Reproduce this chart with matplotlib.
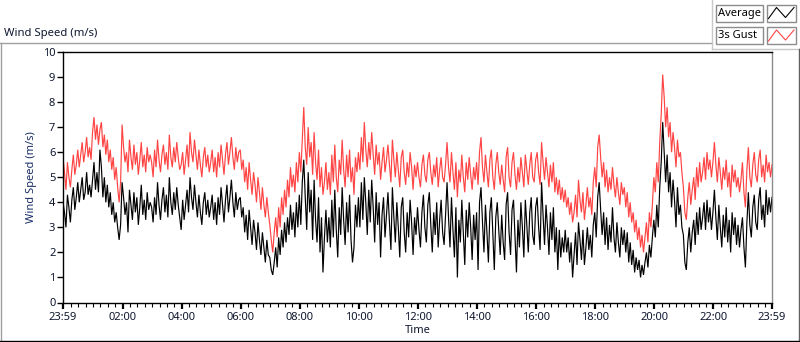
import matplotlib
matplotlib.use("Agg")
import matplotlib.pyplot as plt
from matplotlib.lines import Line2D
from matplotlib.patches import Rectangle
import numpy as np

plt.rcParams['font.family'] = ['Noto Sans', 'DejaVu Sans']

# ---- data (3-minute samples, minutes since 23:59 of the previous day) ----
gust = [
    5.8, 5.2, 4.5, 5.6, 5.0, 4.6, 5.3, 5.9, 5.1, 5.5, 6.1, 5.4, 5.9, 6.4, 5.6, 6.0, 6.6, 5.8, 6.2, 5.7,
    6.8, 7.4, 6.5, 7.1, 6.3, 6.9, 7.2, 6.2, 6.7, 5.9, 6.5, 5.6, 6.1, 5.3, 5.8, 4.9, 5.4, 4.6, 4.0, 4.8,
    7.1, 6.2, 5.6, 6.0, 5.2, 6.5, 5.8, 5.3, 6.3, 5.5, 6.0, 5.1, 5.7, 6.4, 5.4, 5.9, 5.2, 6.2, 5.6, 5.9,
    5.6, 5.0, 6.1, 5.4, 6.5, 5.7, 5.2, 5.9, 6.3, 5.5, 6.0, 5.3, 6.7, 5.8, 5.4, 6.2, 5.6, 6.4, 5.8, 5.3,
    5.5, 6.0, 5.1, 5.7, 6.3, 5.4, 6.8, 6.0, 5.6, 6.5, 5.9, 5.3, 6.1, 5.5, 5.0, 5.8, 6.2, 5.4, 5.9, 5.2,
    5.6, 6.1, 5.2, 5.8, 5.0, 6.0, 5.4, 6.3, 5.7, 5.1, 5.9, 6.4, 5.5, 6.0, 6.6, 5.8, 5.3, 6.2, 5.6, 6.0,
    6.1, 5.3, 5.7, 4.8, 5.4, 4.5, 5.6, 4.9, 4.3, 5.2, 4.7, 4.0, 5.0, 4.4, 3.7, 4.6, 3.9, 3.4, 4.2, 3.6,
    3.1, 2.5, 2.0, 2.8, 3.4, 2.6, 3.8, 3.0, 4.2, 3.5, 4.5, 3.8, 4.9, 4.2, 5.4, 4.6, 5.1, 4.4, 5.6, 4.8,
    6.0, 5.2, 6.5, 7.8, 6.2, 5.5, 7.0, 5.8, 6.4, 5.1, 6.8, 5.6, 4.9, 6.1, 4.6, 5.4, 4.3, 4.8, 5.6, 4.5,
    5.2, 4.3, 5.9, 4.8, 6.3, 5.0, 4.4, 5.7, 5.1, 6.5, 5.3, 4.6, 5.9, 5.0, 6.1, 4.8, 5.4, 4.3, 5.8, 5.2,
    6.0, 5.3, 6.6, 5.6, 7.2, 6.1, 5.4, 6.4, 5.7, 6.8, 5.9, 5.1, 6.3, 5.5, 6.0, 4.9, 5.6, 6.2, 5.2, 5.7,
    6.3, 5.5, 4.8, 6.5, 5.7, 5.0, 6.0, 5.3, 4.6, 5.8, 6.1, 5.2, 4.7, 5.6, 5.0, 6.0, 5.4, 4.5, 5.5, 5.0,
    5.6, 5.0, 4.6, 5.5, 5.9, 5.1, 4.8, 5.7, 6.0, 5.2, 4.7, 5.5, 5.0, 5.8, 4.6, 5.3, 5.8, 5.0, 4.8, 5.5,
    6.4, 5.4, 4.8, 6.0, 5.2, 4.5, 5.6, 4.2, 5.3, 4.8, 5.9, 5.0, 4.4, 5.6, 4.9, 5.8, 5.1, 4.5, 5.4, 4.9,
    5.6, 4.7, 6.0, 6.6, 5.4, 4.8, 5.9, 5.2, 4.6, 5.7, 6.1, 5.0, 4.5, 5.5, 6.0, 5.2, 4.7, 5.5, 4.9, 4.4,
    5.8, 6.2, 5.0, 4.6, 5.6, 6.0, 5.1, 4.5, 5.4, 4.8, 5.8, 5.2, 4.6, 5.9, 5.3, 4.7, 5.5, 6.0, 5.0, 4.8,
    5.7, 6.0, 5.2, 4.7, 6.4, 5.6, 4.9, 5.8, 5.2, 4.6, 5.5, 4.8, 5.6, 4.4, 5.0, 4.3, 4.9, 4.1, 4.6, 4.0,
    4.5, 3.8, 4.2, 3.5, 4.0, 3.2, 3.6, 4.3, 3.4, 4.9, 4.1, 3.6, 4.4, 3.3, 3.9, 4.6, 3.8, 4.2, 3.5, 4.8,
    5.4, 4.6, 6.2, 6.7, 5.8, 5.0, 5.6, 4.6, 5.3, 4.4, 5.0, 4.5, 5.4, 4.7, 4.2, 5.0, 4.4, 3.9, 4.8, 4.3,
    4.6, 3.8, 4.4, 3.4, 4.0, 3.2, 3.6, 2.8, 3.3, 2.5, 3.0, 2.2, 2.7, 2.0, 2.6, 3.2, 2.4, 3.6, 3.0, 3.9,
    5.0, 4.4, 5.6, 4.8, 6.4, 7.5, 9.1, 8.2, 7.0, 7.8, 6.6, 7.2, 6.0, 6.8, 6.2, 5.4, 6.5, 5.8, 6.0, 5.2,
    4.6, 3.6, 3.3, 4.2, 4.8, 3.9, 4.5, 5.0, 4.1, 5.4, 4.6, 5.6, 4.8, 5.2, 5.8, 4.9, 6.0, 5.3, 5.7, 5.0,
    5.6, 6.4, 5.5, 4.8, 5.8, 5.2, 4.5, 5.4, 4.9, 5.7, 4.6, 5.2, 4.2, 5.5, 4.8, 5.3, 4.6, 5.0, 4.4, 4.9,
    5.6, 4.4, 3.8, 5.3, 6.2, 5.0, 4.6, 5.5, 6.0, 5.1, 4.8, 5.7, 6.1, 5.0, 5.5, 4.8, 5.9, 5.2, 5.6, 5.0,
    5.5,
]
average = [
    4.0, 3.6, 3.0, 4.3, 3.8, 3.2, 4.1, 4.6, 3.7, 4.2, 4.8, 4.0, 4.5, 5.0, 4.1, 4.4, 5.2, 4.3, 4.7, 4.2,
    4.9, 5.6, 4.5, 5.2, 4.4, 6.1, 5.4, 4.2, 5.0, 4.0, 4.7, 3.8, 4.4, 3.5, 4.0, 3.2, 3.6, 3.0, 2.5, 3.1,
    4.8, 4.2, 3.5, 4.0, 2.8, 4.5, 3.9, 3.3, 4.4, 3.6, 4.2, 3.1, 3.8, 4.7, 3.5, 4.1, 3.3, 4.4, 3.7, 4.0,
    3.8, 3.2, 4.2, 3.5, 4.8, 3.9, 3.3, 4.1, 4.6, 3.6, 4.3, 3.4, 5.0, 4.0, 3.5, 4.4, 3.7, 4.6, 3.9, 3.4,
    2.9, 4.1, 3.3, 3.9, 4.5, 3.6, 5.0, 4.2, 3.7, 4.7, 4.0, 3.4, 4.3, 3.6, 3.1, 4.0, 4.4, 3.5, 4.1, 3.4,
    3.8, 4.3, 3.3, 4.0, 3.1, 4.2, 3.5, 4.6, 3.9, 3.2, 4.1, 4.7, 3.6, 4.2, 4.9, 4.0, 3.4, 4.4, 3.7, 4.1,
    4.2, 3.4, 3.8, 2.8, 3.5, 2.5, 3.7, 3.0, 2.3, 3.3, 2.8, 2.1, 3.2, 2.5, 1.9, 2.8, 2.2, 1.6, 2.5, 1.9,
    1.8, 1.3, 1.1, 1.6, 2.2, 1.4, 2.6, 1.9, 2.9, 2.2, 3.2, 2.4, 3.4, 2.7, 3.9, 2.9, 3.6, 2.6, 4.0, 3.0,
    4.3, 3.1, 4.8, 5.7, 4.2, 2.9, 5.2, 3.6, 4.5, 2.5, 4.9, 3.3, 2.4, 4.2, 2.0, 3.4, 1.2, 2.6, 3.7, 2.4,
    3.4, 2.2, 4.1, 2.6, 4.5, 2.9, 1.8, 3.8, 2.7, 4.6, 3.3, 2.3, 4.0, 2.8, 4.3, 2.5, 1.6, 2.2, 3.9, 3.0,
    4.2, 3.0, 4.8, 3.3, 5.0, 4.0, 2.7, 4.5, 3.2, 4.9, 3.8, 2.4, 4.4, 3.1, 4.0, 1.8, 3.5, 4.2, 2.6, 3.5,
    4.4, 3.2, 2.1, 4.6, 3.4, 2.4, 4.0, 3.0, 1.8, 3.8, 4.2, 2.8, 2.0, 3.6, 2.6, 4.1, 3.2, 1.9, 3.4, 2.7,
    3.8, 2.9, 2.2, 3.6, 4.3, 3.0, 2.4, 3.9, 4.4, 3.1, 2.0, 3.6, 2.7, 4.0, 2.2, 3.3, 4.1, 2.8, 2.3, 3.5,
    4.8, 3.4, 2.2, 4.2, 2.9, 1.8, 3.8, 1.0, 3.3, 2.4, 4.1, 2.8, 1.5, 3.7, 2.6, 4.0, 3.0, 1.7, 3.5, 2.5,
    3.6, 1.3, 4.0, 4.6, 3.2, 2.0, 3.9, 2.8, 1.6, 3.6, 4.2, 2.7, 1.3, 3.4, 4.0, 2.9, 1.9, 3.5, 2.4, 1.7,
    3.9, 4.4, 2.8, 1.9, 3.7, 4.1, 2.6, 1.2, 3.3, 2.2, 4.0, 3.0, 1.8, 4.1, 3.1, 2.0, 3.6, 4.2, 2.7, 2.3,
    3.8, 4.2, 3.0, 2.1, 4.8, 3.5, 2.3, 3.9, 3.0, 1.9, 3.6, 2.5, 3.8, 2.0, 3.0, 1.3, 2.9, 1.8, 2.6, 2.0,
    2.9, 2.0, 2.6, 1.6, 2.4, 1.0, 1.9, 2.8, 1.5, 3.2, 2.5, 1.7, 2.9, 1.5, 2.2, 3.0, 2.1, 2.7, 1.8, 3.1,
    3.6, 2.6, 4.2, 4.8, 3.7, 2.7, 3.6, 2.3, 3.4, 2.1, 3.1, 2.4, 3.8, 2.6, 2.0, 3.2, 2.4, 1.8, 3.0, 2.3,
    2.9, 2.0, 2.8, 1.6, 2.4, 1.5, 2.1, 1.2, 1.8, 1.3, 1.7, 1.0, 1.5, 1.1, 1.6, 2.0, 1.4, 2.3, 1.8, 2.6,
    3.3, 2.6, 3.9, 3.0, 4.6, 5.6, 7.2, 6.0, 4.8, 5.9, 4.4, 5.2, 3.8, 4.9, 4.1, 3.0, 4.6, 3.5, 3.9, 3.0,
    2.7, 1.6, 1.3, 2.4, 3.0, 2.0, 2.8, 3.3, 2.3, 3.6, 2.7, 3.8, 2.9, 3.4, 4.0, 2.9, 4.1, 3.2, 3.8, 2.9,
    3.6, 4.5, 3.4, 2.5, 3.9, 3.0, 2.2, 3.5, 2.6, 3.8, 2.4, 3.3, 2.0, 3.6, 2.7, 3.4, 2.3, 3.1, 2.2, 2.9,
    3.4, 2.2, 1.4, 3.2, 4.4, 3.1, 2.6, 3.8, 4.3, 3.2, 2.9, 4.1, 4.6, 3.3, 3.9, 3.0, 4.5, 3.5, 4.2, 3.6,
    4.2,
]
sample_step_min = 3
tick_minutes = [0, 121, 241, 361, 481, 601, 721, 841, 961, 1081, 1201, 1321, 1440]
tick_labels = ["23:59", "02:00", "04:00", "06:00", "08:00", "10:00", "12:00",
               "14:00", "16:00", "18:00", "20:00", "22:00", "23:59"]
y_ticks = list(range(0, 11))
series_names = ["Average", "3s Gust"]

t = np.arange(len(gust)) * sample_step_min

W, H = 800, 342
fig = plt.figure(figsize=(W / 100, H / 100), dpi=100)
fig.patch.set_facecolor('white')

def fx(x):
    return x / W

def fy(y):
    return 1 - y / H

ax_l, ax_r, ax_t, ax_b = 63, 772, 52, 302.5
ax = fig.add_axes([fx(ax_l), fy(ax_b), (ax_r - ax_l) / W, (ax_b - ax_t) / H])

red = '#ff4444'
ax.plot(t, gust, color=red, lw=0.85, solid_joinstyle='miter')
ax.plot(t, average, color='black', lw=0.85, solid_joinstyle='miter')

ax.set_xlim(0, 1440)
ax.set_ylim(0, 10)
ax.set_xticks(tick_minutes)
ax.set_xticklabels(tick_labels)
ax.set_xticks([1 + 15 * k for k in range(1, 96) if (1 + 15 * k) not in tick_minutes], minor=True)
ax.set_yticks(y_ticks)
ax.set_yticklabels([str(v) for v in y_ticks])

lab_col = '#101830'
ax.tick_params(axis='both', which='major', direction='out', length=4, width=1.0,
               labelsize=8, colors='black', labelcolor=lab_col)
ax.tick_params(axis='x', which='major', length=4, width=1.6, pad=3)
ax.tick_params(axis='x', which='minor', direction='out', length=3, width=0.8, color='black')
ax.tick_params(axis='y', pad=1.5)

for s in ['top', 'left', 'bottom']:
    ax.spines[s].set_color('black')
    ax.spines[s].set_linewidth(1.0)
ax.spines['right'].set_color('#8c8c8c')
ax.spines['right'].set_linewidth(1.0)

ax.set_xlabel("Time", fontsize=8, color=lab_col, labelpad=1)
ax.set_ylabel("Wind Speed (m/s)", fontsize=8, color='#1b2f66', labelpad=4)

# panel label
fig.text(fx(4), fy(36), "Wind Speed (m/s)", fontsize=8.1, color=lab_col,
         ha='left', va='baseline')

# outer frame lines
def fline(x0, y0, x1, y1, color, lw=1.0):
    fig.add_artist(Line2D([fx(x0), fx(x1)], [fy(y0), fy(y1)], color=color, lw=lw,
                          transform=fig.transFigure))

gray = '#a0a0a0'
fline(0, 42.5, 711.5, 42.5, gray)
fline(1, 42.5, 1, 341, gray)
fline(711.5, 0, 711.5, 49, '#c8c8c8')
fline(711.5, 49, 799, 49, '#c8c8c8')
fline(798.5, 49, 798.5, 340.5, '#606060')
fline(0, 340.5, 799, 340.5, 'black')

# legend
rows = [(4.5, 21.5, 'black'), (27, 44, red)]
for name, (y0, y1, col) in zip(series_names, rows):
    fig.add_artist(Rectangle((fx(715.5), fy(y1)), (762.5 - 715.5) / W, (y1 - y0) / H,
                             transform=fig.transFigure, facecolor='white',
                             edgecolor='#8c8c8c', lw=1.0))
    fig.add_artist(Rectangle((fx(766.5), fy(y1)), (795.5 - 766.5) / W, (y1 - y0) / H,
                             transform=fig.transFigure, facecolor='white',
                             edgecolor='#8c8c8c', lw=1.0))
    fig.text(fx(717.5), fy((y0 + y1) / 2 + 0.5), name, fontsize=8, color='black',
             ha='left', va='center')
    zx = [768.5, 776.5, 785.5, 794]
    zy = [y1 - 3, y0 + 3, y1 - 4, y0 + 3]
    fig.add_artist(Line2D([fx(v) for v in zx], [fy(v) for v in zy], color=col, lw=0.8,
                          transform=fig.transFigure))

fig.savefig("out.png", dpi=100, facecolor='white')
